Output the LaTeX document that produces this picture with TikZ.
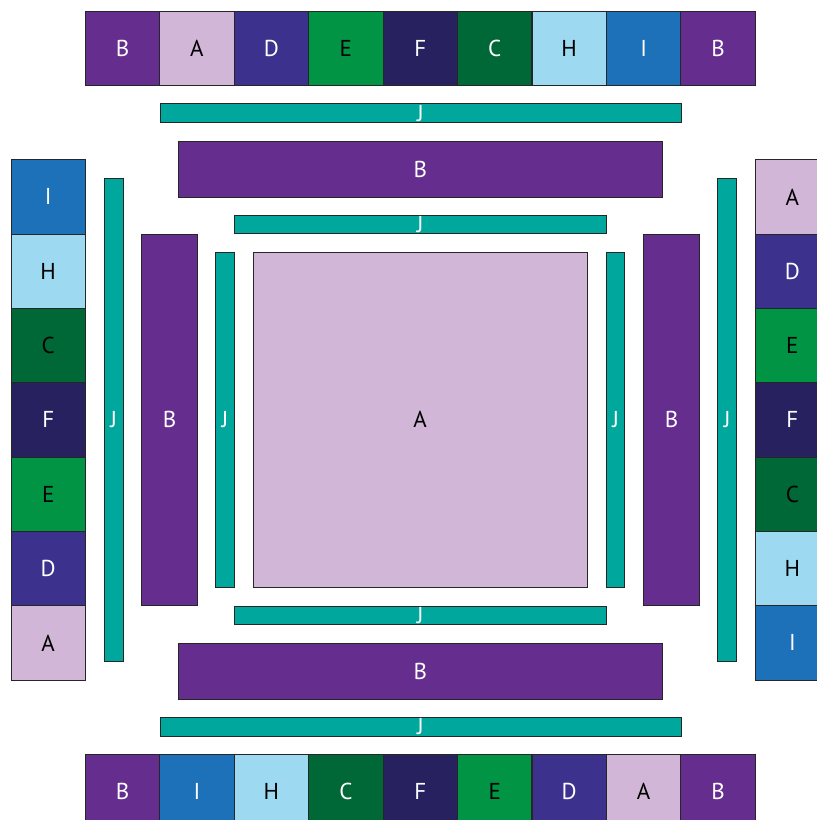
\documentclass[tikz,border=0pt]{standalone}
\usepackage{fontspec}
\setmainfont{PT Sans}
\definecolor{tileA}{HTML}{D1B6D8}
\definecolor{tileB}{HTML}{652D8E}
\definecolor{tileC}{HTML}{006837}
\definecolor{tileD}{HTML}{3C318C}
\definecolor{tileE}{HTML}{009444}
\definecolor{tileF}{HTML}{27225F}
\definecolor{tileH}{HTML}{9DDAF1}
\definecolor{tileI}{HTML}{1D71B8}
\definecolor{tileJ}{HTML}{00A79D}
\tikzset{
  tile/.style={
    draw=black!85, line width=0.9pt, inner sep=0pt,
    font=\fontsize{23}{23}\selectfont
  },
  sq/.style={tile, minimum width=74.4pt, minimum height=74.4pt},
  jbar/.style={tile, fill=tileJ, text=white},
  bbar/.style={tile, fill=tileB, text=white}
}

\begin{document}
\begin{tikzpicture}[x=1pt, y=-1pt]
  \useasboundingbox (0,0) rectangle (817,820);
  \clip (0,0) rectangle (817,820);

  % ── Outer ring of squares ─────────────────────────────────────────
  \foreach \c/\tc [count=\i] in {B/white, A/black, D/white, E/black, F/white,
                                 C/white, H/black, I/white, B/white}
    { \node[sq, fill=tile\c, text=\tc] (top\i) at ({85.3+74.44*(\i-0.5)}, 48.2) {\c}; }

  \foreach \c/\tc [count=\i] in {B/white, I/white, H/black, C/white, F/white,
                                 E/black, D/white, A/black, B/white}
    { \node[sq, fill=tile\c, text=\tc] (bot\i) at ({85.3+74.44*(\i-0.5)}, 791.5) {\c}; }

  \foreach \c/\tc [count=\i] in {I/white, H/black, C/black, F/white,
                                 E/black, D/white, A/black}
    { \node[sq, fill=tile\c, text=\tc] (left\i) at (48.2, {159.7+74.33*(\i-0.5)}) {\c}; }

  \foreach \c/\tc [count=\i] in {A/black, D/white, E/black, F/white,
                                 C/black, H/black, I/white}
    { \node[sq, fill=tile\c, text=\tc] (right\i) at (792.4, {159.7+74.33*(\i-0.5)}) {\c}; }

  % ── Horizontal bars ───────────────────────────────────────────────
  \node[jbar, minimum width=521pt, minimum height=19pt]   (jTop)    at (420.5, 113.2) {J};
  \node[bbar, minimum width=484pt, minimum height=56pt]   (bTop)    at (420.3, 169)   {B};
  \node[jbar, minimum width=371.7pt, minimum height=18pt] (jTopIn)  at (420.2, 224.7) {J};
  \node[jbar, minimum width=371.7pt, minimum height=18pt] (jBotIn)  at (420.2, 615.3) {J};
  \node[bbar, minimum width=484pt, minimum height=56pt]   (bBot)    at (420.3, 671)   {B};
  \node[jbar, minimum width=521pt, minimum height=19pt]   (jBot)    at (420.5, 726.8) {J};

  % ── Vertical bars ─────────────────────────────────────────────────
  \node[jbar, minimum width=18.7pt, minimum height=483.4pt] (jLeft)    at (113.7, 420)   {J};
  \node[bbar, minimum width=56.4pt, minimum height=371.7pt] (bLeft)    at (169.5, 419.8) {B};
  \node[jbar, minimum width=18.6pt, minimum height=335pt]   (jLeftIn)  at (225, 419.8)   {J};
  \node[jbar, minimum width=18.6pt, minimum height=335pt]   (jRightIn) at (615.6, 419.8) {J};
  \node[bbar, minimum width=56.4pt, minimum height=371.7pt] (bRight)   at (671.5, 419.8) {B};
  \node[jbar, minimum width=18.7pt, minimum height=483.4pt] (jRight)   at (727.2, 420)   {J};

  % ── Centre square ─────────────────────────────────────────────────
  \node[tile, fill=tileA, text=black, minimum width=334.3pt, minimum height=335pt]
    (centre) at (420.2, 419.8) {A};
\end{tikzpicture}
\end{document}
